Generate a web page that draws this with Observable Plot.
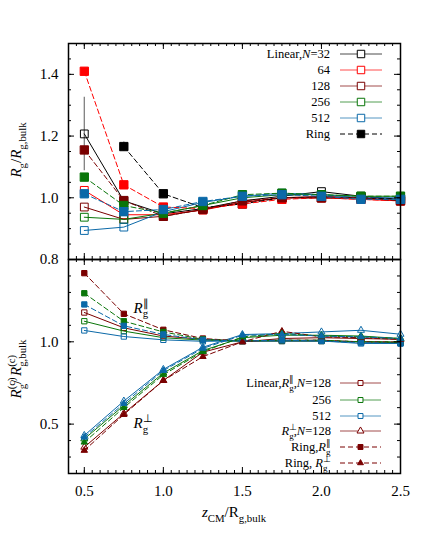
<!DOCTYPE html>
<html><head><meta charset="utf-8">
<script src="https://cdn.jsdelivr.net/npm/d3@7"></script>
<script src="https://cdn.jsdelivr.net/npm/@observablehq/plot@0.6"></script>
<style>
body{margin:0;background:#fff;}
#chart{position:relative;width:429px;height:540px;background:#fff;font-family:"Liberation Serif","Times New Roman",serif;overflow:hidden;}
#chart svg{position:absolute;left:0;}
#chart svg text{font-family:"Liberation Serif","Times New Roman",serif;}
</style></head><body><div id="chart"></div>
<script>
// ---------- data ----------
const zCM = [0.5, 0.75, 1.0, 1.25, 1.5, 1.75, 2.0, 2.25, 2.5];

// top panel: Rg / Rg,bulk
const linear32  = [1.207, 0.990, 0.948, 0.965, 0.990, 1.005, 1.020, 1.005, 0.995];
const linear64  = [1.024, 0.945, 0.945, 0.960, 0.985, 1.000, 1.000, 0.995, 0.990];
const linear128 = [0.970, 0.930, 0.940, 0.962, 0.985, 1.000, 1.005, 1.000, 0.990];
const linear256 = [0.937, 0.930, 0.950, 0.975, 1.000, 1.010, 1.010, 1.005, 1.005];
const linear512 = [0.894, 0.905, 0.955, 0.985, 1.005, 1.015, 1.010, 1.000, 1.000];
const ring32    = [null,  1.166, 1.013, 0.968, 0.980, 1.000, 1.000, 1.000, 0.995];
const ring64    = [1.410, 1.042, 0.970, 0.965, 0.980, 0.995, 1.000, 0.995, 0.990];
const ring128   = [1.155, 0.991, 0.940, 0.962, 0.990, 1.000, 1.000, 1.000, 0.990];
const ring256   = [1.067, 0.975, 0.950, 0.975, 1.010, 1.015, 1.010, 1.005, 1.005];
const ring512   = [1.013, 0.955, 0.962, 0.988, 1.005, 1.010, 1.005, 0.995, 0.995];
// error bars
const errX    = [0.5, 0.75];
const errLow  = [1.088, 1.151];
const errHigh = [1.326, 1.181];

// bottom panel: Rg(c) / Rg,bulk(c)
const linPar128  = [1.178, 1.085, 1.035, 1.015, 1.005, 1.005, 1.005, 1.000, 0.995];
const linPar256  = [1.125, 1.065, 1.025, 1.010, 1.005, 1.005, 1.005, 1.000, 0.995];
const linPar512  = [1.069, 1.032, 1.012, 1.003, 1.005, 1.005, 1.005, 0.990, 0.990];
const ringPar128 = [1.417, 1.170, 1.073, 1.020, 1.005, 1.010, 1.010, 1.000, 1.000];
const ringPar256 = [1.295, 1.125, 1.060, 1.015, 1.005, 1.010, 1.010, 1.000, 1.000];
const ringPar512 = [1.227, 1.097, 1.045, 1.012, 1.005, 1.010, 1.005, 0.995, 0.990];
const linPerp128  = [0.360, 0.565, 0.765, 0.937, 1.000, 1.020, 1.025, 1.020, 1.015];
const linPerp256  = [0.410, 0.613, 0.810, 0.947, 1.025, 1.040, 1.040, 1.035, 1.020];
const linPerp512  = [0.431, 0.640, 0.832, 0.967, 1.044, 1.050, 1.060, 1.070, 1.046];
const ringPerp128 = [0.340, 0.558, 0.765, 0.910, 1.000, 1.064, 1.030, 1.025, 1.015];
const ringPerp256 = [0.390, 0.600, 0.800, 0.940, 1.030, 1.050, 1.035, 1.030, 1.020];
const ringPerp512 = [0.420, 0.625, 0.825, 0.960, 1.040, 1.045, 1.035, 1.030, 1.020];

// ticks
const xMajor = [0.5, 1.0, 1.5, 2.0, 2.5];
const xMinor = d3.range(8, 51).map(i => i * 0.05);
const yMajorTop = [0.8, 1.0, 1.2, 1.4];
const yMinorTop = d3.range(16, 31).map(i => i * 0.05);
const yMajorBot = [0.5, 1.0];
const yMinorBot = d3.range(2, 16).map(i => i / 10);

// ---------- styles ----------
const C = {k: "#000000", r: "#ff0000", dr: "#7a0000", g: "#0a760a", b: "#0b69a8"};
const FONT = "'Liberation Serif', 'Times New Roman', serif";
const W = 429, ML = 68, MR = 29;
const topH = 259, topMT = 43;
const botTop = 259, botH = 281, botMB = 67;
const FW = W - ML - MR, TFH = topH - topMT, BFH = botH - botMB;

const rows = vals => zCM.map((x, i) => ({x, y: vals[i]})).filter(d => d.y != null);

function seriesMarks(vals, color, dashed, symbol, r, filled) {
  const d = rows(vals);
  return [
    Plot.line(d, {x: "x", y: "y", stroke: color, strokeWidth: 1, strokeDasharray: dashed ? "5,3" : null}),
    Plot.dot(d, {x: "x", y: "y", symbol, r, fill: filled ? color : "none", stroke: color, strokeWidth: 1})
  ];
}
function tickMarks(mx, nx, my, ny, fw, fh) {
  return [
    Plot.tickX(nx, {x: d => d, insetTop: fh - 3, strokeWidth: 1}),
    Plot.tickX(nx, {x: d => d, insetBottom: fh - 3, strokeWidth: 1}),
    Plot.tickX(mx, {x: d => d, insetTop: fh - 6, strokeWidth: 1}),
    Plot.tickX(mx, {x: d => d, insetBottom: fh - 6, strokeWidth: 1}),
    Plot.tickY(ny, {y: d => d, insetRight: fw - 3, strokeWidth: 1}),
    Plot.tickY(ny, {y: d => d, insetLeft: fw - 3, strokeWidth: 1}),
    Plot.tickY(my, {y: d => d, insetRight: fw - 6, strokeWidth: 1}),
    Plot.tickY(my, {y: d => d, insetLeft: fw - 6, strokeWidth: 1})
  ];
}
const fmt = d3.format(".1f");
const plotStyle = {fontFamily: FONT, fontSize: "15px", background: "transparent", overflow: "visible", color: "black"};

// ---------- top panel ----------
const topPlot = Plot.plot({
  width: W, height: topH, marginTop: topMT, marginBottom: 0, marginLeft: ML, marginRight: MR,
  style: plotStyle,
  x: {domain: [0.4, 2.5], axis: null},
  y: {domain: [0.8, 1.5]},
  marks: [
    Plot.ruleX(errX.map((x, i) => ({x, lo: errLow[i], hi: errHigh[i]})), {x: "x", y1: "lo", y2: "hi", stroke: "#808080", strokeWidth: 1.3}),
    ...seriesMarks(linear32, C.k, false, "square", 4.4, false),
    ...seriesMarks(linear64, C.r, false, "square", 4.4, false),
    ...seriesMarks(linear128, C.dr, false, "square", 4.4, false),
    ...seriesMarks(linear256, C.g, false, "square", 4.4, false),
    ...seriesMarks(linear512, C.b, false, "square", 4.4, false),
    ...seriesMarks(ring32, C.k, true, "square", 4.7, true),
    ...seriesMarks(ring64, C.r, true, "square", 4.7, true),
    ...seriesMarks(ring128, C.dr, true, "square", 4.7, true),
    ...seriesMarks(ring256, C.g, true, "square", 4.7, true),
    ...seriesMarks(ring512, C.b, true, "square", 4.7, true),
    ...tickMarks(xMajor, xMinor, yMajorTop, yMinorTop, FW, TFH),
    Plot.axisY({ticks: yMajorTop, tickSize: 0, tickPadding: 10, tickFormat: fmt, label: null, fontSize: 15, fontFamily: FONT}),
    Plot.frame({stroke: "black", strokeWidth: 1.5})
  ]
});

// ---------- bottom panel ----------
const botPlot = Plot.plot({
  width: W, height: botH, marginTop: 0, marginBottom: botMB, marginLeft: ML, marginRight: MR,
  style: plotStyle,
  x: {domain: [0.4, 2.5]},
  y: {domain: [0.2, 1.5]},
  marks: [
    ...seriesMarks(linPar128, C.dr, false, "square", 3, false),
    ...seriesMarks(linPar256, C.g, false, "square", 3, false),
    ...seriesMarks(linPar512, C.b, false, "square", 3, false),
    ...seriesMarks(linPerp128, C.dr, false, "triangle", 2.6, false),
    ...seriesMarks(linPerp256, C.g, false, "triangle", 2.6, false),
    ...seriesMarks(linPerp512, C.b, false, "triangle", 2.6, false),
    ...seriesMarks(ringPar128, C.dr, true, "square", 3, true),
    ...seriesMarks(ringPar256, C.g, true, "square", 3, true),
    ...seriesMarks(ringPar512, C.b, true, "square", 3, true),
    ...seriesMarks(ringPerp128, C.dr, true, "triangle", 2.4, true),
    ...seriesMarks(ringPerp256, C.g, true, "triangle", 2.4, true),
    ...seriesMarks(ringPerp512, C.b, true, "triangle", 2.4, true),
    ...tickMarks(xMajor, xMinor, yMajorBot, yMinorBot, FW, BFH),
    Plot.axisY({ticks: yMajorBot, tickSize: 0, tickPadding: 10, tickFormat: fmt, label: null, fontSize: 15, fontFamily: FONT}),
    Plot.axisX({ticks: xMajor, tickSize: 0, tickPadding: 12, tickFormat: fmt, label: null, fontSize: 15, fontFamily: FONT}),
    Plot.frame({stroke: "black", strokeWidth: 1.5})
  ]
});

const chart = document.getElementById("chart");
botPlot.style.top = botTop + "px";
topPlot.style.top = "0px";
chart.appendChild(botPlot);
chart.appendChild(topPlot);

// ---------- rich text helper ----------
function rich(parent, parts, {x = 0, y = 0, anchor = "start", size = 15, transform = null} = {}) {
  const t = d3.select(parent).append("text")
    .attr("x", x).attr("y", y).attr("text-anchor", anchor)
    .attr("font-family", FONT).attr("font-size", size).attr("fill", "black");
  if (transform) t.attr("transform", transform);
  const small = size * 0.72;
  let cur = 0, prevLen = 0;
  for (const p of parts) {
    const shift = p.sub ? size * 0.3 : p.sup ? -size * 0.4 : 0;
    const ts = t.append("tspan").text(p.t)
      .attr("font-size", (p.sub || p.sup) ? small : size)
      .attr("dy", shift - cur);
    if (p.it) ts.attr("font-style", "italic");
    if (p.back) ts.attr("dx", -prevLen);
    cur = shift;
    prevLen = ts.node().getComputedTextLength();
  }
  return t;
}

// ---------- legends ----------
function legend(svg, entries, {xText, x1, x2, size}) {
  const g = d3.select(svg).append("g");
  for (const e of entries) {
    g.append("line").attr("x1", x1).attr("x2", x2).attr("y1", e.y).attr("y2", e.y)
      .attr("stroke", e.color).attr("stroke-width", 1).attr("stroke-opacity", e.dashed ? 1 : 0.7)
      .attr("stroke-dasharray", e.dashed ? "5,3" : null);
    const sym = e.symbol === "triangle" ? d3.symbolTriangle : d3.symbolSquare;
    g.append("path").attr("d", d3.symbol(sym, Math.PI * e.r * e.r)())
      .attr("transform", `translate(${(x1 + x2) / 2},${e.y})`)
      .attr("fill", e.filled ? e.color : "white").attr("stroke", e.color).attr("stroke-width", 1);
    rich(g.node(), e.label, {x: xText, y: e.y + size * 0.33, anchor: "end", size});
  }
}

legend(topPlot, [
  {y: 54, color: C.k, label: [{t: "Linear,"}, {t: "N", it: true}, {t: "=32"}], symbol: "square", r: 4.2},
  {y: 70, color: C.r, label: [{t: "64"}], symbol: "square", r: 4.2},
  {y: 86, color: C.dr, label: [{t: "128"}], symbol: "square", r: 4.2},
  {y: 102, color: C.g, label: [{t: "256"}], symbol: "square", r: 4.2},
  {y: 118, color: C.b, label: [{t: "512"}], symbol: "square", r: 4.2},
  {y: 134, color: C.k, label: [{t: "Ring"}], symbol: "square", r: 4.2, filled: true, dashed: true}
], {xText: 330, x1: 340, x2: 382, size: 12.5});

const by = botTop;
legend(botPlot, [
  {y: 383 - by, color: C.dr, symbol: "square", r: 2.8,
   label: [{t: "Linear,"}, {t: "R", it: true}, {t: "\u2225", sup: true}, {t: "g", sub: true, back: true}, {t: ","}, {t: "N", it: true}, {t: "=128"}]},
  {y: 400 - by, color: C.g, symbol: "square", r: 2.8, label: [{t: "256"}]},
  {y: 416 - by, color: C.b, symbol: "square", r: 2.8, label: [{t: "512"}]},
  {y: 431 - by, color: C.dr, symbol: "triangle", r: 2.6,
   label: [{t: "R", it: true}, {t: "\u22a5", sup: true}, {t: "g", sub: true, back: true}, {t: ","}, {t: "N", it: true}, {t: "=128"}]},
  {y: 447 - by, color: C.dr, symbol: "square", r: 2.8, filled: true, dashed: true,
   label: [{t: "Ring,"}, {t: "R", it: true}, {t: "\u2225", sup: true}, {t: "g", sub: true, back: true}]},
  {y: 463 - by, color: C.dr, symbol: "triangle", r: 2.2, filled: true, dashed: true,
   label: [{t: "Ring, "}, {t: "R", it: true}, {t: "\u22a5", sup: true}, {t: "g", sub: true, back: true}]}
], {xText: 331, x1: 340, x2: 381, size: 12.5});

// ---------- annotations inside bottom panel ----------
const bx = botPlot.scale("x"), byS = botPlot.scale("y");
rich(botPlot, [{t: "R", it: true}, {t: "\u2225", sup: true}, {t: "g", sub: true, back: true}],
  {x: bx.apply(0.815), y: byS.apply(1.172), size: 15});
rich(botPlot, [{t: "R", it: true}, {t: "\u22a5", sup: true}, {t: "g", sub: true, back: true}],
  {x: bx.apply(0.815), y: byS.apply(0.473), size: 15});

// ---------- axis titles ----------
rich(topPlot, [{t: "R", it: true}, {t: "g", sub: true}, {t: "/"}, {t: "R", it: true}, {t: "g,bulk", sub: true}],
  {anchor: "middle", size: 15, transform: "translate(21,150) rotate(-90)"});
rich(botPlot, [{t: "R", it: true}, {t: "(c)", sup: true}, {t: "g", sub: true, back: true}, {t: "/ "},
  {t: "R", it: true}, {t: "(c)", sup: true}, {t: "g,bulk", sub: true, back: true}],
  {anchor: "middle", size: 15, transform: `translate(21,${369 - botTop}) rotate(-90)`});
rich(botPlot, [{t: "z", it: true}, {t: "CM", sub: true}, {t: "/R"}, {t: "g,bulk", sub: true}],
  {x: 234, y: 517 - botTop, anchor: "middle", size: 15});
</script></body></html>
